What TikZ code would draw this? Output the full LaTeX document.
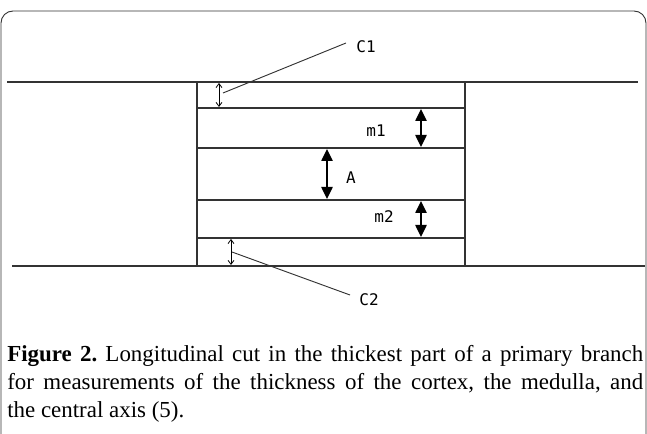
\documentclass[tikz,border=0pt]{standalone}
\usepackage{fontspec}
\setmainfont{Liberation Serif}
\newfontfamily\labelfam{DejaVu Sans Mono}
\usetikzlibrary{arrows.meta}

\begin{document}
\frenchspacing
\begin{tikzpicture}[x=0.75pt,y=-0.75pt,
  layer/.style={draw=black!80,line width=1.1pt},
  bigdim/.style={{Triangle[length=9pt,width=8.5pt]}-{Triangle[length=9pt,width=8.5pt]},line width=1.1pt},
  smalldim/.style={{Straight Barb[length=3pt,width=4.5pt]}-{Straight Barb[length=3pt,width=4.5pt]},line width=0.6pt},
  lead/.style={draw=black!80,line width=0.7pt},
  lbl/.style={font=\labelfam\fontsize{12}{12}\selectfont,inner sep=0pt},
  caption/.style={text width=477pt,align=justify,inner sep=0pt,font=\fontsize{17.2}{21}\selectfont}
]
\useasboundingbox (0,0) rectangle (647,434);
\draw[black!80,line width=0.7pt,rounded corners=9pt] (1,11) rectangle (646,446);

% outer surfaces of the branch
\draw[layer] (7,82) -- (638,82);
\draw[layer] (12,266) -- (645,266);

% the cut with its layers
\draw[layer] (197,82) -- (197,266) (465,82) -- (465,266);
\foreach \y in {108,148,200,238}
  \draw[layer] (197,\y) -- (465,\y);

% dimension ends
\coordinate (c1top) at (219,83);  \coordinate (c1bot) at (219,107);
\coordinate (m1top) at (421,109); \coordinate (m1bot) at (421,147);
\coordinate (atop)  at (327,149); \coordinate (abot)  at (327,199);
\coordinate (m2top) at (421,201); \coordinate (m2bot) at (421,237);
\coordinate (c2top) at (231,239); \coordinate (c2bot) at (231,265);

% cortex (top)
\draw[smalldim] (c1top) -- (c1bot);
\node[lbl] (C1) at (366,47) {C1};
\coordinate (c1from) at (223,93);
\coordinate (c1to) at (346,43);
\draw[lead] (c1from) -- (c1to);

% medulla and central axis
\draw[bigdim] (m1top) -- (m1bot);
\node[lbl] (M1) at (376,131) {m1};
\draw[bigdim] (atop) -- (abot);
\node[lbl] (A) at (351,178) {A};
\draw[bigdim] (m2top) -- (m2bot);
\node[lbl] (M2) at (384,217) {m2};

% cortex (bottom)
\draw[smalldim] (c2top) -- (c2bot);
\node[lbl] (C2) at (369,300) {C2};
\coordinate (c2from) at (232,252);
\coordinate (c2to) at (350,295);
\draw[lead] (c2from) -- (c2to);

\node[caption,anchor=north west] (cap) at (7,345) {\textbf{Figure 2.} Longitudinal cut in the thickest part of a primary branch\linebreak for measurements of the thickness of the cortex, the medulla, and\linebreak the central axis (5).};
\end{tikzpicture}
\end{document}
